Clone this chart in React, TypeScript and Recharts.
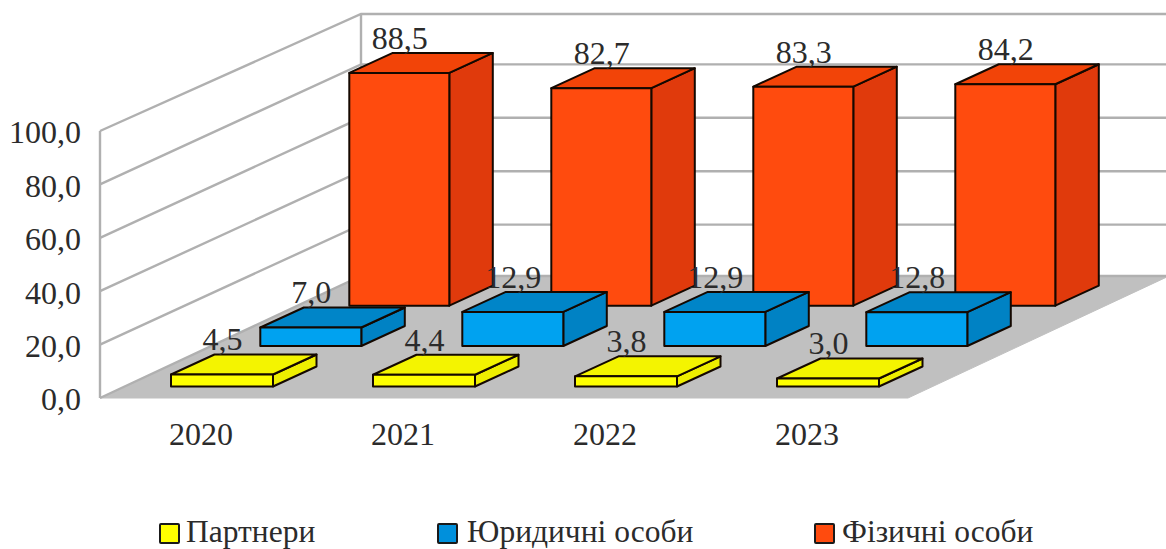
import React from "react";
import { BarChart, Bar, XAxis, YAxis, CartesianGrid, Legend, LabelList } from "recharts";

const years = ["2020", "2021", "2022", "2023"];
const partners = [4.5, 4.4, 3.8, 3.0];
const legalEntities = [7.0, 12.9, 12.9, 12.8];
const individuals = [88.5, 82.7, 83.3, 84.2];
const valueTicks = [0, 20, 40, 60, 80, 100];
const seriesNames = ["Партнери", "Юридичні особи", "Фізичні особи"];

const rows = years.map((year, i) => ({
  year,
  partners: partners[i],
  legalEntities: legalEntities[i],
  individuals: individuals[i],
}));

const WIDTH = 1166;
const HEIGHT = 549;
const PLOT = { left: 100, top: 131, right: 908, bottom: 398 };
const SERIF = "'Liberation Serif', serif";
const INK = "#2b2b2b";
const WALL = "#b0b0b0";
const FLOOR = "#c0c0c0";

const fmt = (v: number) => v.toFixed(1).replace(".", ",");

// Each row of boxes sits deeper on the floor and a little smaller than the previous one.
type Row3D = { shiftX: number; shiftY: number; shrink: number; front: string; top: string; side: string };
const DEPTH = { x: 43.5, y: -20 };
const frontRow: Row3D = { shiftX: 21, shiftY: -11.5, shrink: 1, front: "#ffff00", top: "#f4f400", side: "#eeee00" };
const middleRow: Row3D = { shiftX: 109.3, shiftY: -52, shrink: 0.99, front: "#00a2f0", top: "#0085c8", side: "#0082c4" };
const backRow: Row3D = { shiftX: 198.3, shiftY: -92.3, shrink: 0.985, front: "#ff4b0e", top: "#f24408", side: "#e03a0c" };

const Box = (row: Row3D) => (props: any) => {
  const { x, y, width, height } = props;
  const h = height * row.shrink;
  const l = x + row.shiftX;
  const r = l + width;
  const b = y + height + row.shiftY;
  const t = b - h;
  const dx = DEPTH.x;
  const dy = DEPTH.y;
  const edge = { stroke: "#140800", strokeWidth: 2, strokeLinejoin: "round" as const };
  return (
    <g>
      <polygon points={`${r},${b} ${r + dx},${b + dy} ${r + dx},${t + dy} ${r},${t}`} fill={row.side} {...edge} />
      <polygon points={`${l},${t} ${l + dx},${t + dy} ${r + dx},${t + dy} ${r},${t}`} fill={row.top} {...edge} />
      <rect x={l} y={t} width={width} height={h} fill={row.front} {...edge} />
    </g>
  );
};

const ValueLabel = (row: Row3D) => (props: any) => {
  const { x, y, width, height, value } = props;
  const top = y + height + row.shiftY - height * row.shrink;
  return (
    <text x={x + row.shiftX + width / 2 + 0.5} y={top - 24} textAnchor="middle" fontFamily={SERIF} fontSize={32} fill={INK}>
      {fmt(value)}
    </text>
  );
};

// Offsets of the back-wall end of every gridline, lowest level first.
const wallRise = [-122, -120, -120, -120, -120, -117];
const WALL_RUN = 261;

const WallLine = (props: any) => {
  const { x1, x2, y1 } = props;
  const level = Math.round(((PLOT.bottom - y1) / (PLOT.bottom - PLOT.top)) * 5);
  const bx = x1 + WALL_RUN;
  const by = y1 + wallRise[level];
  const line = { stroke: WALL, strokeWidth: 2.4, fill: "none" };
  return (
    <g>
      {level === 0 && (
        <polygon
          points={`${x1},${y1} ${x2},${y1} ${WIDTH + 3},${by} ${bx},${by}`}
          fill={FLOOR}
          stroke={FLOOR}
          strokeWidth={1}
        />
      )}
      <polyline points={`${x1},${y1} ${bx},${by} ${WIDTH},${by}`} {...line} />
      {level === 5 && (
        <>
          <line x1={x1} y1={PLOT.top} x2={x1} y2={PLOT.bottom} {...line} />
          <line x1={bx} y1={by} x2={bx} y2={PLOT.bottom + wallRise[0]} {...line} />
        </>
      )}
    </g>
  );
};

const legendSlots = [
  { swatch: 159, text: 186 },
  { swatch: 437, text: 467 },
  { swatch: 814, text: 842 },
];

// The series are painted back to front, so the legend puts them in its own order.
const LegendRow = (props: any) => {
  const items = [...(props.payload ?? [])].sort(
    (a: any, b: any) => seriesNames.indexOf(a.value) - seriesNames.indexOf(b.value),
  );
  return (
    <div style={{ position: "relative", height: 0, width: WIDTH }}>
      {items.map((item: any, i: number) => (
        <React.Fragment key={item.value}>
          <div
            style={{
              position: "absolute",
              left: legendSlots[i].swatch,
              top: 0,
              width: 17,
              height: 17,
              background: item.color,
              border: "2px solid #1a1a1a",
              borderRadius: 2,
            }}
          />
          <div
            style={{
              position: "absolute",
              left: legendSlots[i].text,
              top: -9,
              fontFamily: SERIF,
              fontSize: 31.5,
              lineHeight: "36px",
              color: INK,
              whiteSpace: "nowrap",
            }}
          >
            {item.value}
          </div>
        </React.Fragment>
      ))}
    </div>
  );
};

export default function App() {
  return (
    <div style={{ position: "absolute", left: 0, top: 0, width: WIDTH, height: HEIGHT, background: "#fff" }}>
      <BarChart
        width={WIDTH}
        height={HEIGHT}
        data={rows}
        barCategoryGap={0}
        margin={{ top: PLOT.top, left: 0, right: WIDTH - PLOT.right, bottom: 91 }}
      >
        <XAxis
          xAxisId="front"
          dataKey="year"
          height={60}
          axisLine={false}
          tickLine={false}
          tickSize={0}
          tickMargin={-6}
          tick={{ fontFamily: SERIF, fontSize: 32, fill: INK }}
        />
        <XAxis xAxisId="middle" dataKey="year" hide />
        <XAxis xAxisId="back" dataKey="year" hide />
        <YAxis
          width={PLOT.left}
          domain={[0, 100]}
          ticks={valueTicks}
          axisLine={false}
          tickLine={false}
          tickSize={0}
          tickMargin={19}
          tickFormatter={fmt}
          tick={{ fontFamily: SERIF, fontSize: 32, fill: INK, dy: 1 }}
        />
        <CartesianGrid xAxisId="front" vertical={false} horizontal={WallLine} />
        <Legend
          content={LegendRow}
          verticalAlign="bottom"
          wrapperStyle={{ left: 0, top: 523, bottom: "auto", width: WIDTH, height: 0 }}
        />
        <Bar xAxisId="back" dataKey="individuals" name={seriesNames[2]} fill={backRow.front} barSize={100} shape={Box(backRow)} isAnimationActive={false}>
          <LabelList dataKey="individuals" content={ValueLabel(backRow)} />
        </Bar>
        <Bar xAxisId="middle" dataKey="legalEntities" name={seriesNames[1]} fill="#0090dc" barSize={101} shape={Box(middleRow)} isAnimationActive={false}>
          <LabelList dataKey="legalEntities" content={ValueLabel(middleRow)} />
        </Bar>
        <Bar xAxisId="front" dataKey="partners" name={seriesNames[0]} fill={frontRow.front} barSize={102} shape={Box(frontRow)} isAnimationActive={false}>
          <LabelList dataKey="partners" content={ValueLabel(frontRow)} />
        </Bar>
      </BarChart>
    </div>
  );
}
